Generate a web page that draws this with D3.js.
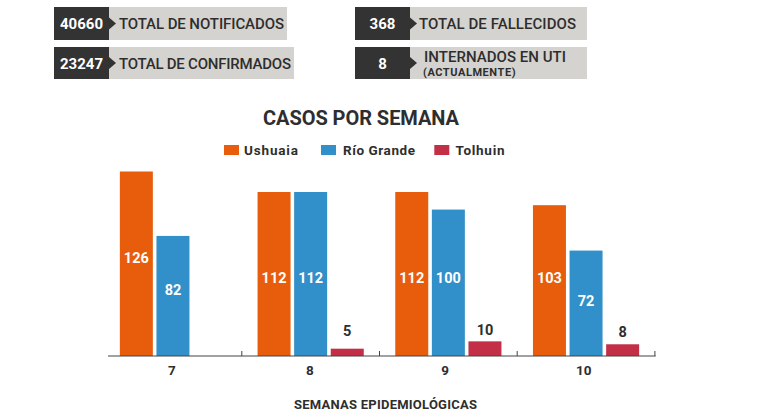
<!DOCTYPE html>
<html><head><meta charset="utf-8">
<script src="https://cdnjs.cloudflare.com/ajax/libs/d3/7.8.5/d3.min.js"></script>
<style>html,body{margin:0;padding:0;background:#fff;overflow:hidden}svg{display:block}text{font-family:Roboto,sans-serif}</style>
</head><body><svg id="c" width="768" height="416"></svg>
<script>
const weeks = ["7","8","9","10"];
const seriesNames = ["Ushuaia","Río Grande","Tolhuin"];
const ushuaia = [126,112,112,103];
const rioGrande = [82,112,100,72];
const tolhuin = [null,5,10,8];
const colors = ["#e85d0c","#318fc9","#c22f47"];
const kpiValues = ["40660","23247","368","8"];
const kpiLabels = ["TOTAL DE NOTIFICADOS","TOTAL DE CONFIRMADOS","TOTAL DE FALLECIDOS","INTERNADOS EN UTI"];
const kpiSub = [null,null,null,"(ACTUALMENTE)"];
const title = "CASOS POR SEMANA";
const xTitle = "SEMANAS EPIDEMIOLÓGICAS";

// layout (not data)
const kpiBoxes = [[54,7,233,33],[54,47,240,32],[355,7,232,33],[355,47,232,32]];
const kpiLabelX = [65,65,64,69], kpiLabelW = [165,172,157,142];
const dark = "#333333", ink = "#2e2e2e";
const svg = d3.select("#c");

kpiBoxes.forEach((b,i)=>{
  const [x,y,w,h]=b, g=svg.append("g");
  g.append("rect").attr("x",x).attr("y",y).attr("width",w).attr("height",h).attr("fill","#d5d3cf");
  g.append("rect").attr("x",x).attr("y",y).attr("width",55).attr("height",h).attr("fill",dark);
  const my=y+h/2;
  g.append("path").attr("d",`M${x+55},${my-6}L${x+62},${my}L${x+55},${my+6}Z`).attr("fill",dark);
  g.append("text").attr("x",x+27.5).attr("y",my+5.5).attr("text-anchor","middle")
    .attr("fill","#fff").attr("font-size",15).attr("font-weight",700).text(kpiValues[i]);
  const lab=g.append("text").attr("x",x+kpiLabelX[i]).attr("fill",ink).attr("font-size",15).attr("font-weight",500)
    .attr("textLength",kpiLabelW[i]).attr("lengthAdjust","spacing").text(kpiLabels[i]);
  if(kpiSub[i]){
    lab.attr("y",y+15);
    g.append("text").attr("x",x+68).attr("y",y+29).attr("fill",ink).attr("font-size",11).attr("font-weight",700)
      .attr("textLength",92.5).attr("lengthAdjust","spacing").text(kpiSub[i]);
  } else {
    lab.attr("y",my+5.5);
  }
});

svg.append("text").attr("x",361).attr("y",125).attr("text-anchor","middle").attr("fill",ink)
  .attr("font-size",20).attr("font-weight",700).attr("textLength",196).attr("lengthAdjust","spacing").text(title);

const legendX=[224,321,434.3], legendTextX=[244,343,455.5], legendW=[54,72,49];
seriesNames.forEach((n,i)=>{
  svg.append("rect").attr("x",legendX[i]).attr("y",145).attr("width",15).attr("height",10).attr("fill",colors[i]);
  svg.append("text").attr("x",legendTextX[i]).attr("y",155).attr("fill",ink).attr("font-size",13.5).attr("font-weight",700)
    .attr("textLength",legendW[i]).attr("lengthAdjust","spacing").text(n);
});

const x=d3.scaleBand().domain(weeks).range([104.1,654.9]);
const barStep=36.6, barW=33;
const xs=d3.scaleBand().domain(seriesNames).range([x.bandwidth()/2-barStep*1.5,x.bandwidth()/2+barStep*1.5]);
const y=d3.scaleLinear().domain([0,126]).range([356,171.5]);
const series=[ushuaia,rioGrande,tolhuin];
// per-label fine offsets from the default label position
const insideDy={"Ushuaia":[-6,4,4,-3],"Río Grande":[-6,4,-5,-3]};
const outsideDy={"Tolhuin":[0,-12.5,-6.5,-6.8]};

series.forEach((vals,si)=>{
  const g=svg.append("g"), name=seriesNames[si];
  weeks.forEach((w,i)=>{
    const v=vals[i]; if(v==null) return;
    const bx=x(w)+xs(name)+(barStep-barW)/2;
    g.append("rect").attr("x",bx).attr("y",y(v)).attr("width",barW).attr("height",y(0)-y(v)).attr("fill",colors[si]);
    const inside=v>20;
    g.append("text").attr("x",bx+barW/2)
      .attr("y",inside?y(v/2)+5.3+insideDy[name][i]:y(v)+outsideDy[name][i])
      .attr("text-anchor","middle").attr("fill",inside?"#fff":ink)
      .attr("font-size",14.5).attr("font-weight",700).text(v);
  });
});

const axis=svg.append("g").attr("transform","translate(0,356)");
axis.append("line").attr("x1",108).attr("x2",655.7).attr("stroke","#444").attr("stroke-width",1.2);
const tickLabelDx=[-1,-0.8,-3.3,-2.3];
weeks.forEach((w,i)=>{
  const tx=x(w)+x.bandwidth();
  axis.append("line").attr("x1",tx).attr("x2",tx).attr("y1",-5).attr("y2",0).attr("stroke","#444").attr("stroke-width",1);
  axis.append("text").attr("x",x(w)+x.bandwidth()/2+tickLabelDx[i]).attr("y",19).attr("text-anchor","middle")
    .attr("fill",ink).attr("font-size",13.5).attr("font-weight",700).text(w);
});
svg.append("text").attr("x",385.5).attr("y",408.5).attr("text-anchor","middle").attr("fill",ink)
  .attr("font-size",13).attr("font-weight",700).attr("textLength",183).attr("lengthAdjust","spacing").text(xTitle);
</script></body></html>
